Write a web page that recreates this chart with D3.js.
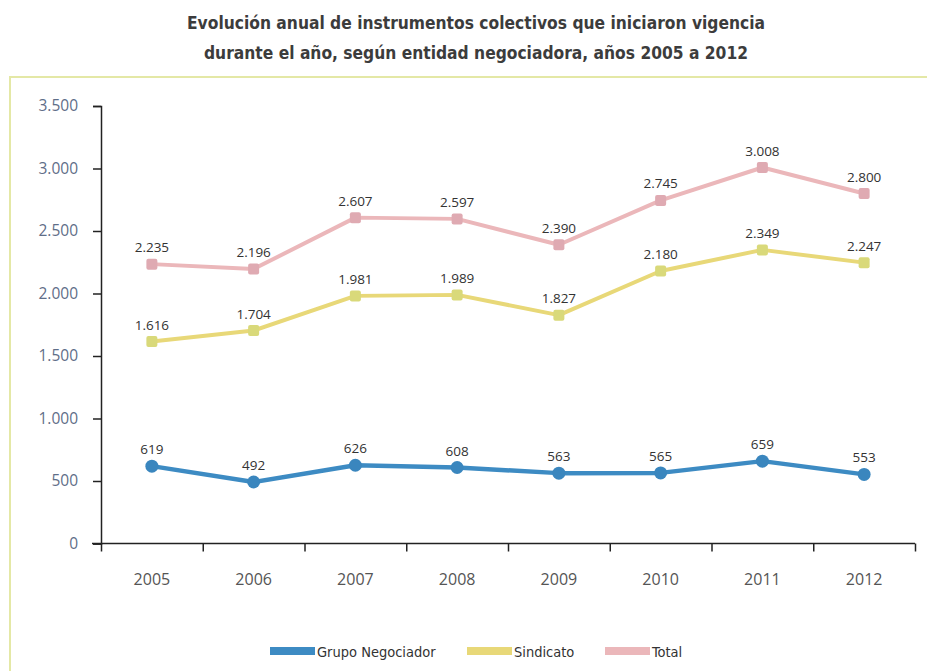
<!DOCTYPE html>
<html>
<head>
<meta charset="utf-8">
<script src="https://cdn.jsdelivr.net/npm/d3@7"></script>
<style>
  html, body { margin: 0; padding: 0; background: #ffffff; }
  svg { display: block; }
</style>
</head>
<body>
<svg id="chart" width="927" height="671"></svg>
<script>
// ---- Data ----
const years = ["2005", "2006", "2007", "2008", "2009", "2010", "2011", "2012"];
const grupoNegociador = [619, 492, 626, 608, 563, 565, 659, 553];
const sindicato = [1616, 1704, 1981, 1989, 1827, 2180, 2349, 2247];
const total = [2235, 2196, 2607, 2597, 2390, 2745, 3008, 2800];
const yTicks = [0, 500, 1000, 1500, 2000, 2500, 3000, 3500];
const seriesNames = ["Grupo Negociador", "Sindicato", "Total"];
const titleLines = [
  "Evolución anual de instrumentos colectivos que iniciaron vigencia",
  "durante el año,  según entidad negociadora, años 2005 a 2012"
];

(function () {
const svg = d3.select("#chart");
const W = 927, H = 671;
const mLeft = 101, mRight = 915, mTop = 106, mBottom = 543.5;

const loc = d3.formatLocale({ decimal: ",", thousands: ".", grouping: [3], currency: ["", ""] });
const fmt = loc.format(",");

// frame
svg.append("path")
  .attr("d", `M10,${H} L10,77 L${W},77`)
  .attr("fill", "none")
  .attr("stroke", "#e4e8a6")
  .attr("stroke-width", 2);

// title
const title = svg.append("g");
titleLines.forEach((t, i) => {
  title.append("text")
    .attr("x", 476)
    .attr("y", 29 + i * 30)
    .attr("text-anchor", "middle")
    .attr("font-family", "'Liberation Sans Narrow', 'DejaVu Sans Condensed', 'Open Sans', sans-serif")
    .attr("font-weight", "bold")
    .attr("font-size", 17)
    .attr("fill", "#3c3c3c")
    .attr("textLength", i === 0 ? 578 : 544)
    .attr("lengthAdjust", "spacingAndGlyphs")
    .text(t);
});

// scales
const x = d3.scaleBand().domain(years).range([mLeft, mRight]).padding(0);
const y = d3.scaleLinear().domain([0, 3500]).range([mBottom, mTop]);

// y axis
const yAxis = svg.append("g")
  .attr("transform", `translate(${mLeft},0)`)
  .call(d3.axisLeft(y).tickValues(yTicks).tickFormat(fmt).tickSize(8).tickPadding(15));
yAxis.select(".domain").attr("stroke", "#222").attr("stroke-width", 1.5);
yAxis.selectAll(".tick line").attr("stroke", "#222").attr("stroke-width", 1.5);
yAxis.selectAll(".tick text")
  .attr("font-family", "'Open Sans', sans-serif")
  .attr("font-size", 15.5)
  .attr("fill", "#5f6e88");

// x axis: labels at band centres
const xAxis = svg.append("g")
  .attr("transform", `translate(0,${mBottom})`)
  .call(d3.axisBottom(x).tickSize(0).tickPadding(30));
xAxis.select(".domain").remove();
xAxis.selectAll(".tick text")
  .attr("font-family", "'Open Sans', sans-serif")
  .attr("font-size", 16)
  .attr("fill", "#555");

// x axis line and boundary ticks
const bounds = d3.scaleLinear().domain([0, years.length]).range([mLeft, mRight]);
const xb = svg.append("g")
  .attr("transform", `translate(0,${mBottom})`)
  .call(d3.axisBottom(bounds).ticks(years.length).tickFormat("").tickSize(8).tickSizeOuter(0));
xb.select(".domain").attr("stroke", "#222").attr("stroke-width", 1.5)
  .attr("d", `M${mLeft - 9},0H${mRight}`);
xb.selectAll(".tick line").attr("stroke", "#222").attr("stroke-width", 1.5);

// series
const series = [
  { name: seriesNames[0], values: grupoNegociador, color: "#3d8bc3", marker: "#3a86be", shape: "circle", width: 4.5 },
  { name: seriesNames[1], values: sindicato, color: "#e8d878", marker: "#d9d97a", shape: "square", width: 4 },
  { name: seriesNames[2], values: total, color: "#ebb7ba", marker: "#dfaab2", shape: "square", width: 4 }
];

const cx = d => x(d) + x.bandwidth() / 2;
const line = d3.line().x((d, i) => cx(years[i])).y(d => y(d));

series.forEach(s => {
  const g = svg.append("g");
  g.append("path")
    .datum(s.values)
    .attr("d", line)
    .attr("fill", "none")
    .attr("stroke", s.color)
    .attr("stroke-width", s.width)
    .attr("stroke-linejoin", "round");
  if (s.shape === "circle") {
    g.selectAll("circle").data(s.values).join("circle")
      .attr("cx", (d, i) => cx(years[i]))
      .attr("cy", d => y(d))
      .attr("r", 6.5)
      .attr("fill", s.marker);
  } else {
    g.selectAll("rect").data(s.values).join("rect")
      .attr("x", (d, i) => cx(years[i]) - 5.5)
      .attr("y", d => y(d) - 5.5)
      .attr("width", 11)
      .attr("height", 11)
      .attr("rx", 2)
      .attr("fill", s.marker);
  }
  g.selectAll("text").data(s.values).join("text")
    .attr("x", (d, i) => cx(years[i]))
    .attr("y", d => y(d) - 12)
    .attr("text-anchor", "middle")
    .attr("font-family", "'Open Sans', sans-serif")
    .attr("font-size", 13.5)
    .attr("fill", "#333")
    .text(d => fmt(d));
});

// legend
const legendItems = [
  { name: seriesNames[0], color: "#3d8bc3", x: 270 },
  { name: seriesNames[1], color: "#e8d878", x: 467 },
  { name: seriesNames[2], color: "#ebb7ba", x: 605 }
];
const lg = svg.append("g");
legendItems.forEach(it => {
  lg.append("rect")
    .attr("x", it.x).attr("y", 647)
    .attr("width", 45).attr("height", 8)
    .attr("fill", it.color);
  lg.append("text")
    .attr("x", it.x + 47).attr("y", 656.5)
    .attr("font-family", "'Liberation Sans Narrow', 'DejaVu Sans Condensed', 'Open Sans', sans-serif")
    .attr("font-size", 14.5)
    .attr("fill", "#333")
    .text(it.name);
});
})();
</script>
</body>
</html>
